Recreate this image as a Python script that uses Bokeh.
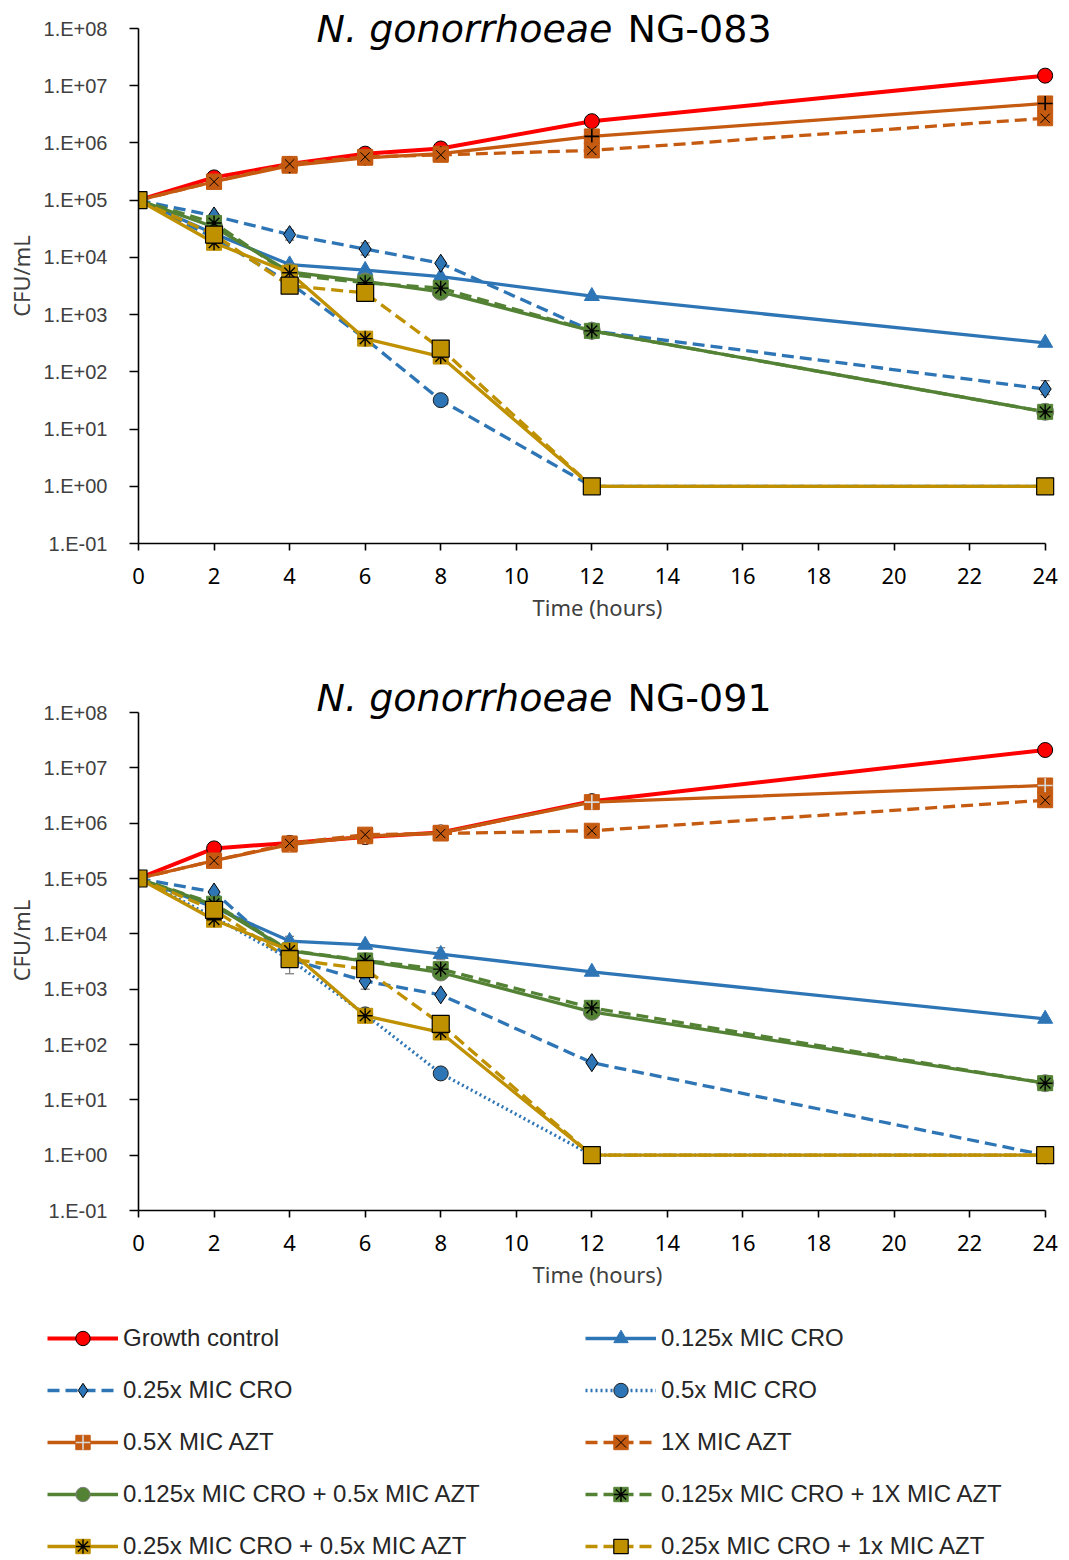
from bokeh.plotting import figure
from bokeh.models import (Range1d, FixedTicker, Label, Legend, LegendItem, Whisker,
                          TeeHead, ColumnDataSource)
from bokeh.layouts import column, row
from bokeh.embed import file_html
from bokeh.resources import INLINE

# ---------------- data ----------------
TIME = [0, 2, 4, 6, 8, 12, 24]
X_TICKS = [0, 2, 4, 6, 8, 10, 12, 14, 16, 18, 20, 22, 24]
Y_TICK_VALUES = [0.1, 1.0, 10.0, 100.0, 1e3, 1e4, 1e5, 1e6, 1e7, 1e8]
Y_TICK_LABELS = ["1.E-01", "1.E+00", "1.E+01", "1.E+02", "1.E+03",
                 "1.E+04", "1.E+05", "1.E+06", "1.E+07", "1.E+08"]

SERIES = ["Growth control", "0.125x MIC CRO", "0.25x MIC CRO", "0.5x MIC CRO",
          "0.5X MIC AZT", "1X MIC AZT", "0.125x MIC CRO + 0.5x MIC AZT",
          "0.125x MIC CRO + 1X MIC AZT", "0.25x MIC CRO + 0.5x MIC AZT",
          "0.25x MIC CRO + 1x MIC AZT"]

# NG-083 (CFU/mL)
ng083_growth = [1e5, 2.5e5, 4.3e5, 6.5e5, 8.0e5, 2.4e6, 1.5e7]
ng083_cro0125 = [1e5, 2.6e4, 7.5e3, 6.0e3, 4.6e3, 2.1e3, 3.2e2]
ng083_cro025 = [1e5, 5.3e4, 2.5e4, 1.4e4, 7.9e3, 5.2e2, 50]
ng083_cro05 = [1e5, 2.2e4, 3.6e3, 3.8e2, 32, 1, 1]
ng083_azt05 = [1e5, 2.1e5, 4.0e5, 5.5e5, 6.5e5, 1.3e6, 4.9e6]
ng083_azt1 = [1e5, 2.1e5, 4.3e5, 5.7e5, 6.2e5, 7.4e5, 2.7e6]
ng083_c0125_a05 = [1e5, 3.4e4, 5.6e3, 3.8e3, 2.5e3, 5.2e2, 20]
ng083_c0125_a1 = [1e5, 4.0e4, 5.0e3, 3.6e3, 2.9e3, 5.2e2, 20]
ng083_c025_a05 = [1e5, 1.8e4, 5.4e3, 3.8e2, 1.85e2, 1, 1]
ng083_c025_a1 = [1e5, 2.5e4, 3.2e3, 2.4e3, 2.55e2, 1, 1]

# NG-091 (CFU/mL)
ng091_growth = [1e5, 3.5e5, 4.4e5, 5.6e5, 6.8e5, 2.5e6, 2.1e7]
ng091_cro0125 = [1e5, 3.0e4, 7.4e3, 6.3e3, 4.3e3, 2.05e3, 2.9e2]
ng091_cro025 = [1e5, 5.7e4, 3.5e3, 1.4e3, 7.9e2, 47, 1]
ng091_cro05 = [1e5, 2.0e4, 3.5e3, 3.5e2, 30, 1, 1]
ng091_azt05 = [1e5, 2.1e5, 4.1e5, 5.8e5, 6.7e5, 2.4e6, 4.8e6]
ng091_azt1 = [1e5, 2.1e5, 4.3e5, 6.2e5, 6.5e5, 7.3e5, 2.6e6]
ng091_c0125_a05 = [1e5, 3.3e4, 4.9e3, 3.2e3, 2.0e3, 3.9e2, 20]
ng091_c0125_a1 = [1e5, 3.5e4, 5.0e3, 3.3e3, 2.3e3, 4.6e2, 20]
ng091_c025_a05 = [1e5, 1.8e4, 5.0e3, 3.3e2, 1.65e2, 1, 1]
ng091_c025_a1 = [1e5, 2.7e4, 3.5e3, 2.3e3, 2.35e2, 1, 1]

NG083 = [ng083_growth, ng083_cro0125, ng083_cro025, ng083_cro05, ng083_azt05,
         ng083_azt1, ng083_c0125_a05, ng083_c0125_a1, ng083_c025_a05, ng083_c025_a1]
NG091 = [ng091_growth, ng091_cro0125, ng091_cro025, ng091_cro05, ng091_azt05,
         ng091_azt1, ng091_c0125_a05, ng091_c0125_a1, ng091_c025_a05, ng091_c025_a1]

# visible error bars: time, lower, upper
err083_time = [2, 4, 6, 24, 24]
err083_low = [1.5e4, 2.0e4, 1.1e4, 40, 2.1e6]
err083_high = [2.2e4, 3.0e4, 1.8e4, 70, 3.5e6]
err091_time = [4, 4, 6, 8, 24]
err091_low = [1.9e3, 6.0e3, 1.0e3, 3.4e3, 1.8e7]
err091_high = [5.0e3, 9.0e3, 1.6e3, 5.6e3, 2.6e7]

# ---------------- styles ----------------
RED = "#FF0000"
BLUE = "#2E75B6"
ORANGE = "#C55A11"
GREEN = "#548235"
GOLD = "#BF9000"
DASH = "12 6"
DOT = "2 3"
LIGHT = "#D9D9D9"


def base_styles(cro05_dash=DOT, cross_color=LIGHT):
    # (line color, dash, width, [(marker, size, fill, outline, outline width)])
    return [
        (RED, "solid", 4, [("circle", 15, RED, "black", 1)]),
        (BLUE, "solid", 3.3, [("triangle", 15, BLUE, BLUE, 1)]),
        (BLUE, DASH, 3.3, [("diamond", 18, BLUE, "black", 1)]),
        (BLUE, cro05_dash, 3.3, [("circle", 15, BLUE, "#1F1F1F", 1)]),
        (ORANGE, "solid", 3.3, [("square", 15, ORANGE, ORANGE, 1), ("cross", 15, None, cross_color, 1.6)]),
        (ORANGE, DASH, 3.3, [("square", 15, ORANGE, ORANGE, 1), ("x", 13, None, "black", 1)]),
        (GREEN, "solid", 3.3, [("circle", 17, GREEN, "#7F7F7F", 1)]),
        (GREEN, DASH, 3.3, [("square", 15, GREEN, GREEN, 1), ("asterisk", 15, None, "black", 1.4)]),
        (GOLD, "solid", 3.3, [("square", 15, GOLD, GOLD, 1), ("asterisk", 15, None, "black", 1.4)]),
        (GOLD, DASH, 3.3, [("square", 17, GOLD, "black", 1.2)]),
    ]


W = 1069
FRAME_LEFT = 138
X_PAD = 0.3                     # room at the right so the 24 h markers are not cut
PX_PER_H = 907 / 24
FRAME_W = round((24 + X_PAD) * PX_PER_H)


def draw_series(p, xs, ys, style):
    color, dash, width, markers = style
    rs = [p.line(xs, ys, line_color=color, line_dash=dash, line_width=width)]
    for (mk, size, fill, outline, lw) in markers:
        kw = dict(marker=mk, size=size, line_color=outline, line_width=lw)
        if fill is None:
            kw["fill_alpha"] = 0
        else:
            kw["fill_color"] = fill
        rs.append(p.scatter(xs, ys, **kw))
    return rs


def make_panel(strain, data, styles, errs, height, top, data_h, frame_h, title_y):
    # 9 decades occupy data_h px; extra headroom above 1E+08 holds the title
    y_end = 10 ** (-1 + 9 * frame_h / data_h)
    p = figure(width=W, height=height, x_range=Range1d(0, 24 + X_PAD),
               y_range=Range1d(0.1, y_end),
               y_axis_type="log", output_backend="svg", toolbar_location=None,
               min_border_left=FRAME_LEFT, min_border_right=W - FRAME_LEFT - FRAME_W,
               min_border_top=top, min_border_bottom=height - top - frame_h)
    p.outline_line_color = None
    p.grid.visible = False
    p.background_fill_color = "white"

    p.xaxis.ticker = FixedTicker(ticks=X_TICKS)
    p.yaxis.ticker = FixedTicker(ticks=Y_TICK_VALUES)
    p.yaxis.major_label_overrides = {v: l for v, l in zip(Y_TICK_VALUES, Y_TICK_LABELS)}
    p.xaxis.bounds = (0, 24)
    p.yaxis.bounds = (0.1, 1e8)
    for ax in (p.xaxis, p.yaxis):
        ax.axis_line_color = "black"
        ax.axis_line_width = 1.6
        ax.major_tick_line_color = "black"
        ax.major_tick_line_width = 1.6
        ax.major_tick_in = 0
        ax.minor_tick_line_color = None
        ax.axis_label_text_font = "Noto Sans"
        ax.axis_label_text_font_style = "normal"
        ax.axis_label_text_font_size = "22px"
        ax.axis_label_text_color = "#404040"
    p.xaxis.major_tick_out = 7
    p.yaxis.major_tick_out = 9
    p.xaxis.major_label_text_font = "Noto Sans"
    p.xaxis.major_label_text_font_size = "22px"
    p.xaxis.major_label_text_color = "black"
    p.xaxis.major_label_standoff = 17
    p.yaxis.major_label_text_font = "Liberation Sans"
    p.yaxis.major_label_text_font_size = "20px"
    p.yaxis.major_label_text_color = "#404040"
    p.yaxis.major_label_standoff = 22
    p.xaxis.axis_label = "Time (hours)"
    p.xaxis.axis_label_standoff = 5
    p.yaxis.axis_label = "CFU/mL"
    p.yaxis.axis_label_standoff = 5

    et, el, eh = errs
    esrc = ColumnDataSource(dict(t=et, lo=el, hi=eh))
    p.add_layout(Whisker(base="t", lower="lo", upper="hi", source=esrc, dimension="height",
                         line_color="#7F7F7F", line_width=1.3, level="underlay",
                         lower_head=TeeHead(size=9, line_color="#7F7F7F", line_width=1.3),
                         upper_head=TeeHead(size=9, line_color="#7F7F7F", line_width=1.3)))

    for ys, st in zip(data, styles):
        draw_series(p, TIME, ys, st)

    p.add_layout(Label(x=474, y=title_y, x_units="screen", y_units="screen",
                       text="N. gonorrhoeae", text_align="right", text_baseline="alphabetic",
                       text_font="DejaVu Sans", text_font_style="italic",
                       text_font_size="38px", text_color="black"))
    p.add_layout(Label(x=489, y=title_y, x_units="screen", y_units="screen",
                       text=strain, text_align="left", text_baseline="alphabetic",
                       text_font="DejaVu Sans", text_font_size="38px", text_color="black"))
    return p


p1 = make_panel("NG-083", NG083, base_styles(cro05_dash=DASH, cross_color="black"),
                (err083_time, err083_low, err083_high),
                height=640, top=8, data_h=515, frame_h=535, title_y=515)
p2 = make_panel("NG-091", NG091, base_styles(),
                (err091_time, err091_low, err091_high),
                height=656, top=30, data_h=498, frame_h=540, title_y=513)

# ---------------- legend ----------------
LEG_H = 264
p3 = figure(width=W, height=LEG_H, x_range=Range1d(0, 1), y_range=Range1d(0, 1),
            output_backend="svg", toolbar_location=None, min_border=0,
            x_axis_location=None, y_axis_location=None)
p3.grid.visible = False
p3.outline_line_color = None

NAN = [float("nan")]
items = []
for name, st in zip(SERIES, base_styles()):
    rs = draw_series(p3, NAN, NAN, st)
    items.append(LegendItem(label=name, renderers=rs))

common = dict(orientation="vertical", glyph_width=71, glyph_height=36, label_height=36,
              label_standoff=5, spacing=16, padding=0, margin=0,
              border_line_color=None, background_fill_alpha=0,
              label_text_font="Liberation Sans", label_text_font_size="24px",
              label_text_color="#262626")
p3.add_layout(Legend(items=items[0::2], location=(47, -4), **common))
p3.add_layout(Legend(items=items[1::2], location=(585, -4), **common))

layout = column(p1, p2, row(p3), spacing=0)
open("out.html", "w").write(file_html(layout, INLINE))
